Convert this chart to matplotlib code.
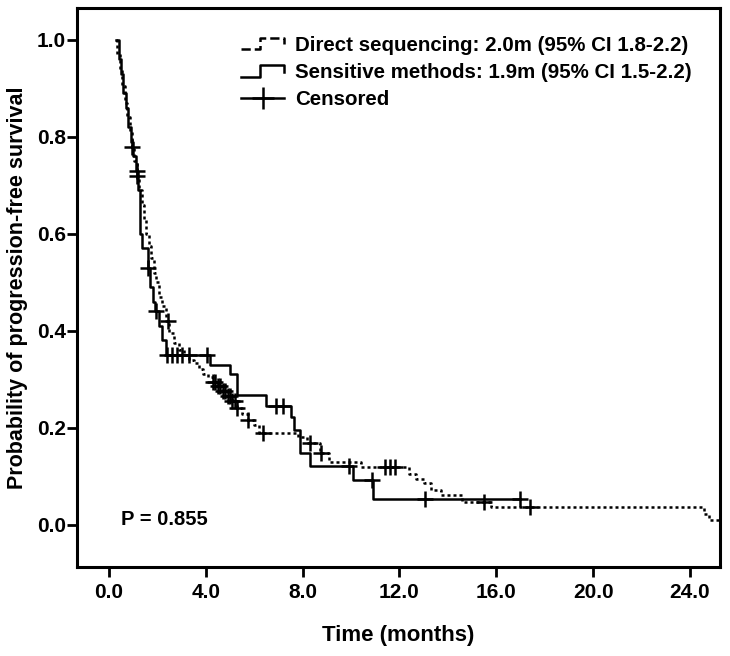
import numpy as np
import matplotlib
matplotlib.use('Agg')
import matplotlib.pyplot as plt
from matplotlib.lines import Line2D
from matplotlib.legend_handler import HandlerBase

plt.rcParams['font.family'] = ['Liberation Sans', 'DejaVu Sans']
plt.rcParams['font.weight'] = 'bold'

# Direct sequencing: event times and survival after each step
direct_t = [0.0, 0.35, 0.45, 0.55, 0.65, 0.75, 0.85, 0.95, 1.05, 1.15, 1.25, 1.35,
            1.45, 1.55, 1.65, 1.75, 1.85, 1.95, 2.05, 2.2, 2.35, 2.5, 2.7, 2.9,
            3.1, 3.3, 3.5, 3.7, 3.9, 4.1, 4.3, 4.5, 4.7, 4.9, 5.1, 5.3, 5.5,
            5.75, 6.0, 6.2, 7.8, 8.2, 8.7, 9.1, 10.4, 12.4, 12.7, 13.0, 13.3,
            13.7, 14.6, 15.8, 24.6, 24.8]
direct_s = [1.0, 0.97, 0.94, 0.905, 0.87, 0.84, 0.81, 0.78, 0.75, 0.72, 0.69, 0.66,
            0.63, 0.60, 0.575, 0.55, 0.52, 0.50, 0.47, 0.45, 0.42, 0.395, 0.375, 0.36,
            0.35, 0.34, 0.334, 0.32, 0.31, 0.305, 0.295, 0.285, 0.275, 0.265, 0.255, 0.24,
            0.228, 0.215, 0.205, 0.19, 0.18, 0.168, 0.148, 0.13, 0.118, 0.105, 0.095, 0.085,
            0.072, 0.062, 0.047, 0.037, 0.022, 0.01]
direct_end = 25.2
direct_cens = [0.95, 1.15, 2.45, 4.3, 4.4, 4.5, 4.6, 4.7, 4.8, 4.9, 5.0, 5.1, 5.2,
               5.3, 5.75, 6.35, 8.3, 8.75, 11.4, 11.6, 11.8, 15.5, 17.4]

# Sensitive methods
sens_t = [0.0, 0.4, 0.5, 0.6, 0.7, 0.8, 0.9, 1.0, 1.1, 1.2, 1.3, 1.38, 1.6, 1.7,
          1.8, 1.9, 2.05, 2.2, 2.35, 4.17, 5.0, 5.28, 6.5, 7.5, 7.65, 7.9, 8.3,
          10.1, 10.9]
sens_s = [1.0, 0.96, 0.93, 0.89, 0.86, 0.82, 0.79, 0.76, 0.73, 0.69, 0.60, 0.57,
          0.53, 0.49, 0.46, 0.44, 0.41, 0.38, 0.35, 0.33, 0.31, 0.268, 0.245, 0.223,
          0.196, 0.148, 0.12, 0.093, 0.052]
sens_end = 17.0
sens_cens = [1.15, 1.6, 1.95, 2.4, 2.6, 2.8, 3.0, 3.3, 4.05, 6.9, 7.2, 9.9, 10.85,
             13.05, 17.0]

start_t = 0.3

legend_labels = ['Direct sequencing: 2.0m (95% CI 1.8-2.2)',
                 'Sensitive methods: 1.9m (95% CI 1.5-2.2)',
                 'Censored']
p_text = 'P = 0.855'

DOT = (0, (1.2, 1.2))


def step_xy(t, s, end):
    t = np.array(t, dtype=float)
    t[0] = start_t
    x = np.append(t, end)
    y = np.append(s, s[-1])
    return x, y


def level_at(t, s, times):
    t = np.array(t)
    idx = np.searchsorted(t, times, side='right') - 1
    return np.array(s)[idx]


class StepHandler(HandlerBase):
    # little step symbol like the SPSS legend
    def create_artists(self, legend, orig_handle, xdescent, ydescent,
                       width, height, fontsize, trans):
        x0, w, h = -xdescent, width, height
        y0 = -ydescent
        xs = [x0, x0 + 0.45 * w, x0 + 0.45 * w, x0 + w, x0 + w]
        ys = [y0 + 0.1 * h, y0 + 0.1 * h, y0 + 0.9 * h, y0 + 0.9 * h, y0 + 0.45 * h]
        ln = Line2D(xs, ys, color='black', lw=1.8, linestyle=orig_handle.get_linestyle())
        ln.set_transform(trans)
        return [ln]


fig = plt.figure(figsize=(7.3, 6.56), dpi=100)
ax = fig.add_axes([0.1055, 0.136, 0.881, 0.852])

x, y = step_xy(direct_t, direct_s, direct_end)
ax.step(x, y, where='post', color='black', lw=1.8, linestyle=DOT)
ax.plot(direct_cens, level_at(direct_t, direct_s, direct_cens), '+', color='black',
        ms=11, mew=1.8)

x, y = step_xy(sens_t, sens_s, sens_end)
ax.step(x, y, where='post', color='black', lw=1.8)
ax.plot(sens_cens, level_at(sens_t, sens_s, sens_cens), '+', color='black',
        ms=11, mew=1.8)

ax.set_xlim(-1.32, 25.25)
ax.set_ylim(-0.087, 1.066)
ax.set_xticks(np.arange(0, 25, 4))
ax.set_xticklabels(['%.1f' % v for v in np.arange(0, 25, 4)])
ax.set_yticks(np.arange(0, 1.01, 0.2))
ax.set_yticklabels(['%.1f' % v for v in np.arange(0, 1.01, 0.2)])
ax.tick_params(direction='out', length=7, width=2, labelsize=15, colors='black')
ax.tick_params(axis='y', pad=1)
ax.tick_params(axis='x', pad=5)
for sp in ax.spines.values():
    sp.set_linewidth(2.2)

ax.set_xlabel('Time (months)', fontsize=16, fontweight='bold', labelpad=16)
ax.set_ylabel('Probability of progression-free survival', fontsize=15.5,
              fontweight='bold', labelpad=6)

ax.text(0.5, 0.01, p_text, fontsize=14.5, fontweight='bold', va='center')

h_dir = Line2D([], [], color='black', lw=1.8, linestyle=DOT)
h_sen = Line2D([], [], color='black', lw=1.8)
h_cen = Line2D([], [], color='black', lw=1.8, marker='+', ms=16, mew=1.8)
ax.legend([h_dir, h_sen, h_cen], legend_labels, loc='upper left',
          bbox_to_anchor=(0.255, 0.95), frameon=False,
          prop={'size': 14.8, 'weight': 'bold'}, handlelength=2.1,
          handletextpad=0.55, labelspacing=0.4, borderaxespad=0, borderpad=0,
          handler_map={h_dir: StepHandler(), h_sen: StepHandler()})

fig.savefig('out.png', dpi=100)
